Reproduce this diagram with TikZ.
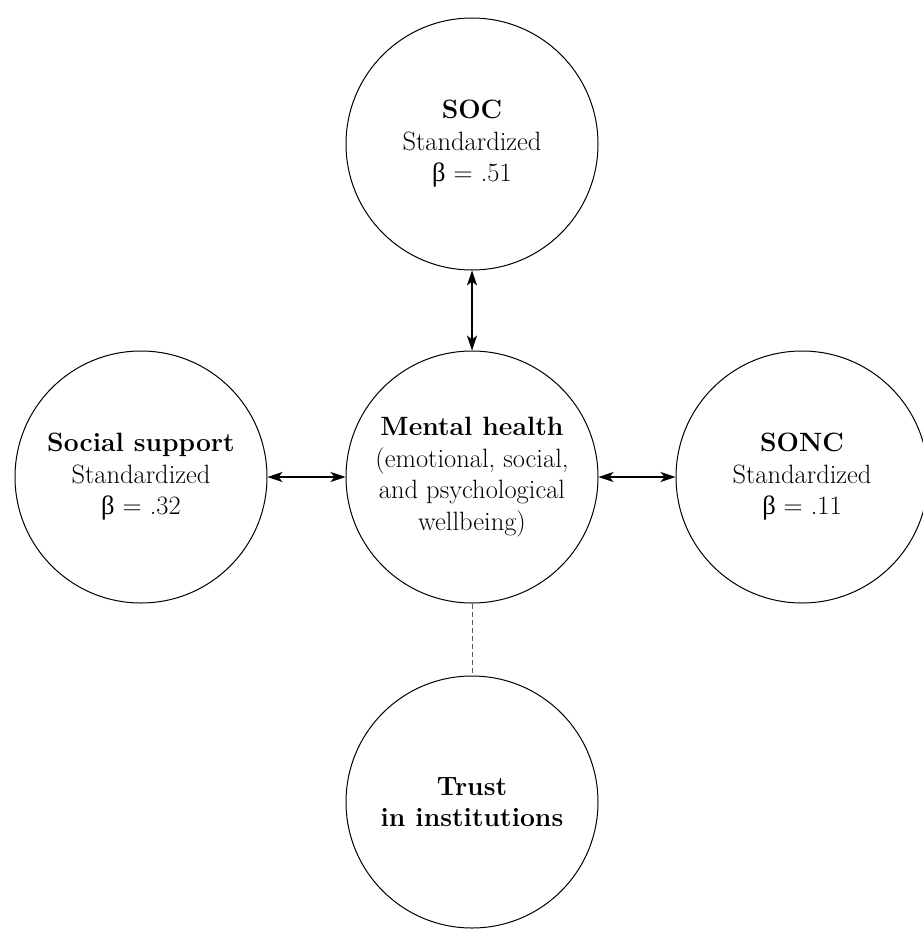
\documentclass[tikz,border=0pt]{standalone}
\usepackage{fontspec}
\newfontfamily\grk{Liberation Serif}
\usetikzlibrary{arrows.meta}
\begin{document}
\begin{tikzpicture}[x=1pt,y=-1pt,
  circ/.style={draw, circle, minimum size=252pt, inner sep=0pt, line width=1pt,
    align=center, font=\fontsize{26.5}{31.5}\selectfont},
  biarrow/.style={{Stealth[length=15pt,width=10pt,inset=4pt]}-{Stealth[length=15pt,width=10pt,inset=4pt]}, line width=1.1pt},
  dashline/.style={dash pattern=on 5pt off 3pt, line width=1pt, black!65}]
\useasboundingbox (0,0) rectangle (922,931);
\node[circ] (soc) at (472,144) {\textbf{SOC}\\Standardized\\{\grk β} = .51};
\node[circ] (mh) at (472,477) {\textbf{Mental health}\\(emotional, social,\\and psychological\\wellbeing)};
\node[circ] (ss) at (141,477) {\textbf{Social support}\\Standardized\\{\grk β} = .32};
\node[circ] (sonc) at (802,477) {\textbf{SONC}\\Standardized\\{\grk β} = .11};
\node[circ] (trust) at (472,802) {\textbf{Trust}\\\textbf{in institutions}};
\draw[biarrow] (soc.south) -- (mh.north);
\draw[biarrow] (ss.east) -- (mh.west);
\draw[biarrow] (mh.east) -- (sonc.west);
\draw[dashline] (mh.south) -- (trust.north);
\end{tikzpicture}
\end{document}
